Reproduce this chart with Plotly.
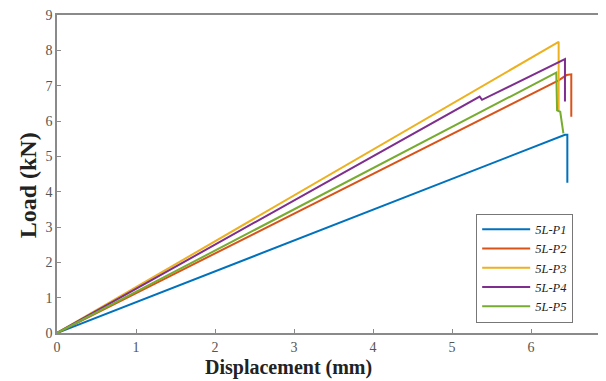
import plotly.graph_objects as go

names = ["5L-P1", "5L-P2", "5L-P3", "5L-P4", "5L-P5"]
colors = ["#0072BD", "#D95319", "#EDB120", "#7E2F8E", "#77AC30"]

p1_x = [0, 6.43, 6.46, 6.46]
p1_y = [0, 5.61, 5.61, 4.25]
p2_x = [0, 6.35, 6.45, 6.51, 6.51]
p2_y = [0, 7.15, 7.3, 7.32, 6.12]
p3_x = [0, 6.34, 6.35, 6.35]
p3_y = [0, 8.24, 8.24, 6.3]
p4_x = [0, 5.35, 5.38, 6.41, 6.43, 6.43]
p4_y = [0, 6.69, 6.6, 7.75, 7.75, 6.55]
p5_x = [0, 6.32, 6.33, 6.37, 6.41]
p5_y = [0, 7.37, 6.3, 6.26, 5.65]

xs = [p1_x, p2_x, p3_x, p4_x, p5_x]
ys = [p1_y, p2_y, p3_y, p4_y, p5_y]

x_ticks = [0, 1, 2, 3, 4, 5, 6, 7]
y_ticks = [0, 1, 2, 3, 4, 5, 6, 7, 8, 9]

x_title = "Displacement (mm)"
y_title = "Load (kN)"

fig = go.Figure()
for n, c, x, y in zip(names, colors, xs, ys):
    fig.add_trace(go.Scatter(x=x, y=y, mode="lines", name=n,
                             line=dict(color=c, width=2)))

serif = "Liberation Serif"
axcol = "#8a8a8a"
fig.update_layout(
    width=606, height=381,
    margin=dict(l=49, r=4, t=7, b=56),
    paper_bgcolor="white", plot_bgcolor="white",
    showlegend=True,
    legend=dict(x=0.758, y=0.033, xanchor="left", yanchor="bottom",
                bordercolor="#777777", borderwidth=1, bgcolor="white",
                font=dict(family=serif, size=12.5, color="#222222", style="italic"),
                tracegroupgap=0, itemwidth=48),
    xaxis=dict(range=[0, 7], tickvals=x_ticks, showgrid=False, zeroline=False,
               showline=True, linecolor=axcol, linewidth=1.5, mirror=True,
               ticks="inside", ticklen=4, tickcolor=axcol, automargin=False,
               ticklabeloverflow="allow",
               tickfont=dict(family=serif, size=14, color="#555555")),
    yaxis=dict(range=[0, 9], tickvals=y_ticks, showgrid=False, zeroline=False,
               showline=True, linecolor=axcol, linewidth=1.5, mirror=True,
               ticks="inside", ticklen=4, tickcolor=axcol, automargin=False,
               ticklabeloverflow="allow",
               tickfont=dict(family=serif, size=14, color="#555555")),
    annotations=[
        dict(text="<b>" + x_title + "</b>", xref="paper", yref="paper",
             x=0.418, y=-0.107, xanchor="center", yanchor="middle", showarrow=False,
             font=dict(family=serif, size=20, color="#222222")),
        dict(text="<b>" + y_title + "</b>", xref="paper", yref="paper",
             x=-0.052, y=0.465, xanchor="center", yanchor="middle", showarrow=False,
             textangle=-90,
             font=dict(family=serif, size=24, color="#222222")),
    ],
)

fig.write_html("out.html")
